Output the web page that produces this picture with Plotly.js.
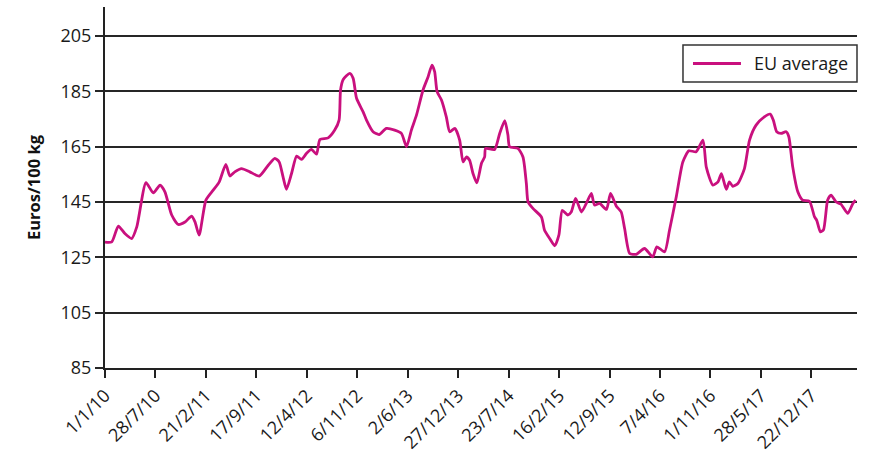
<!DOCTYPE html>
<html>
<head>
<meta charset="utf-8">
<script src="https://cdn.plot.ly/plotly-3.0.1.min.js"></script>
<style>html,body{margin:0;padding:0;background:#fff;}#chart{width:887px;height:463px;}</style>
</head>
<body>
<div id="chart"></div>
<script>
// Days since 1/1/10 and EU average price (Euros/100 kg)
const days = [0,28,55,82,110,131,169,199,227,247,275,302,330,357,371,388,416,446,471,498,515,535,563,597,636,673,700,718,734,748,769,790,810,831,851,872,886,920,947,965,971,982,1009,1023,1037,1064,1078,1105,1130,1160,1194,1222,1243,1263,1284,1311,1332,1348,1359,1369,1387,1407,1421,1442,1462,1476,1490,1503,1517,1533,1552,1565,1569,1606,1627,1648,1661,1668,1702,1723,1737,1744,1764,1799,1812,1833,1854,1871,1885,1908,1922,1940,1964,1984,2005,2018,2039,2067,2084,2108,2128,2142,2163,2190,2224,2258,2275,2307,2327,2355,2382,2407,2437,2465,2479,2506,2527,2541,2561,2574,2588,2609,2636,2657,2684,2718,2742,2755,2769,2787,2808,2819,2835,2856,2876,2904,2925,2934,2949,2962,2979,2993,3014,3034,3062,3083,3094];
const euAverage = [130.5,130.6,136.3,133.6,131.8,136,152,148.3,151.1,148.7,140.3,136.9,137.8,139.9,137.8,133,145.7,149.3,152.3,158.6,154.4,155.9,157.1,155.9,154.4,158.3,160.8,159.5,154.1,149.6,155.3,161.6,160.4,162.6,164,162.3,167.6,168.2,171,174.6,185.5,189.3,191.5,189.7,182.5,177.6,174.6,170.4,169.4,171.6,171,169.8,165,171,176.4,185.5,190.3,194.5,192.1,184.9,181.9,175.8,170.4,171.6,167.4,159.5,161.3,160.1,155.3,151.9,159,161.3,164.4,164,169.8,174.4,169.2,165,164.4,161.3,151.7,145,142.7,139.6,134.8,131.8,129.2,133,142,140.3,141.4,146.3,141.4,144.5,148.1,143.9,144.5,142.3,148.1,143.5,141.4,135.4,126.4,126.1,128.2,125.2,128.8,127,134.8,146.9,159.5,163.5,163.2,167.4,157.5,151.1,152.3,155.3,149.6,152.3,150.7,151.7,157.1,167.4,172.8,175.8,176.8,174.6,170.4,169.8,170.4,168.6,157.7,148.7,145.7,145.3,139.6,138.4,134.2,135,145.7,147.5,145,144.2,140.9,144.5,145.7];
const tickDays = [0,208,416,624,832,1040,1248,1456,1664,1872,2080,2288,2496,2704,2912];
const tickLabels = ["1/1/10","28/7/10","21/2/11","17/9/11","12/4/12","6/11/12","2/6/13","27/12/13","23/7/14","16/2/15","12/9/15","7/4/16","1/11/16","28/5/17","22/12/17"];
const yTicks = [85,105,125,145,165,185,205];
const seriesName = 'EU average';
const lineColor = '#C9107E';

const trace = {
  x: days, y: euAverage, type: 'scatter', mode: 'lines', name: seriesName,
  line: {color: lineColor, width: 2.8, shape: 'spline', smoothing: 0.6},
  showlegend: false
};
const layout = {
  width: 887, height: 463,
  margin: {l: 105, r: 30, t: 7, b: 95},
  paper_bgcolor: '#fff', plot_bgcolor: '#fff',
  font: {family: 'Open Sans, sans-serif', color: '#222', size: 16},
  xaxis: {
    range: [0, 3100], tickvals: tickDays, ticktext: tickLabels, tickangle: -45,
    showgrid: false, zeroline: false, showline: true, linecolor: '#222', linewidth: 2,
    ticks: 'outside', ticklen: 8, tickwidth: 2, tickcolor: '#222',
    tickfont: {size: 18, color: '#1a1a1a'}
  },
  yaxis: {
    range: [85, 215.5], tickvals: yTicks, ticktext: yTicks.map(String),
    showgrid: true, gridcolor: '#262626', gridwidth: 1.8, zeroline: false,
    showline: true, linecolor: '#222', linewidth: 2,
    ticks: 'outside', ticklen: 8, tickwidth: 1.8, tickcolor: '#262626',
    tickfont: {size: 18, color: '#1a1a1a'},
    title: {text: 'Euros/100 kg', font: {size: 16.5, color: '#111', family: 'Open Sans, sans-serif', weight: 'bold'}, standoff: 16}
  },
  showlegend: false,
  shapes: [
    {type: 'rect', xref: 'paper', yref: 'paper', x0: 0.7686, x1: 1.0, y0: 0.7922, y1: 0.8947,
     line: {color: '#333', width: 1.5}, fillcolor: '#fff', layer: 'above'},
    {type: 'line', xref: 'paper', yref: 'paper', x0: 0.7819, x1: 0.8457, y0: 0.8435, y1: 0.8435,
     line: {color: lineColor, width: 2.8}, layer: 'above'}
  ],
  annotations: [
    {text: seriesName, xref: 'paper', yref: 'paper', x: 0.8604, y: 0.8435, xanchor: 'left', yanchor: 'middle',
     showarrow: false, font: {size: 18, color: '#1a1a1a'}}
  ]
};
Plotly.newPlot('chart', [trace], layout, {displayModeBar: false, staticPlot: true});
</script>
</body>
</html>
